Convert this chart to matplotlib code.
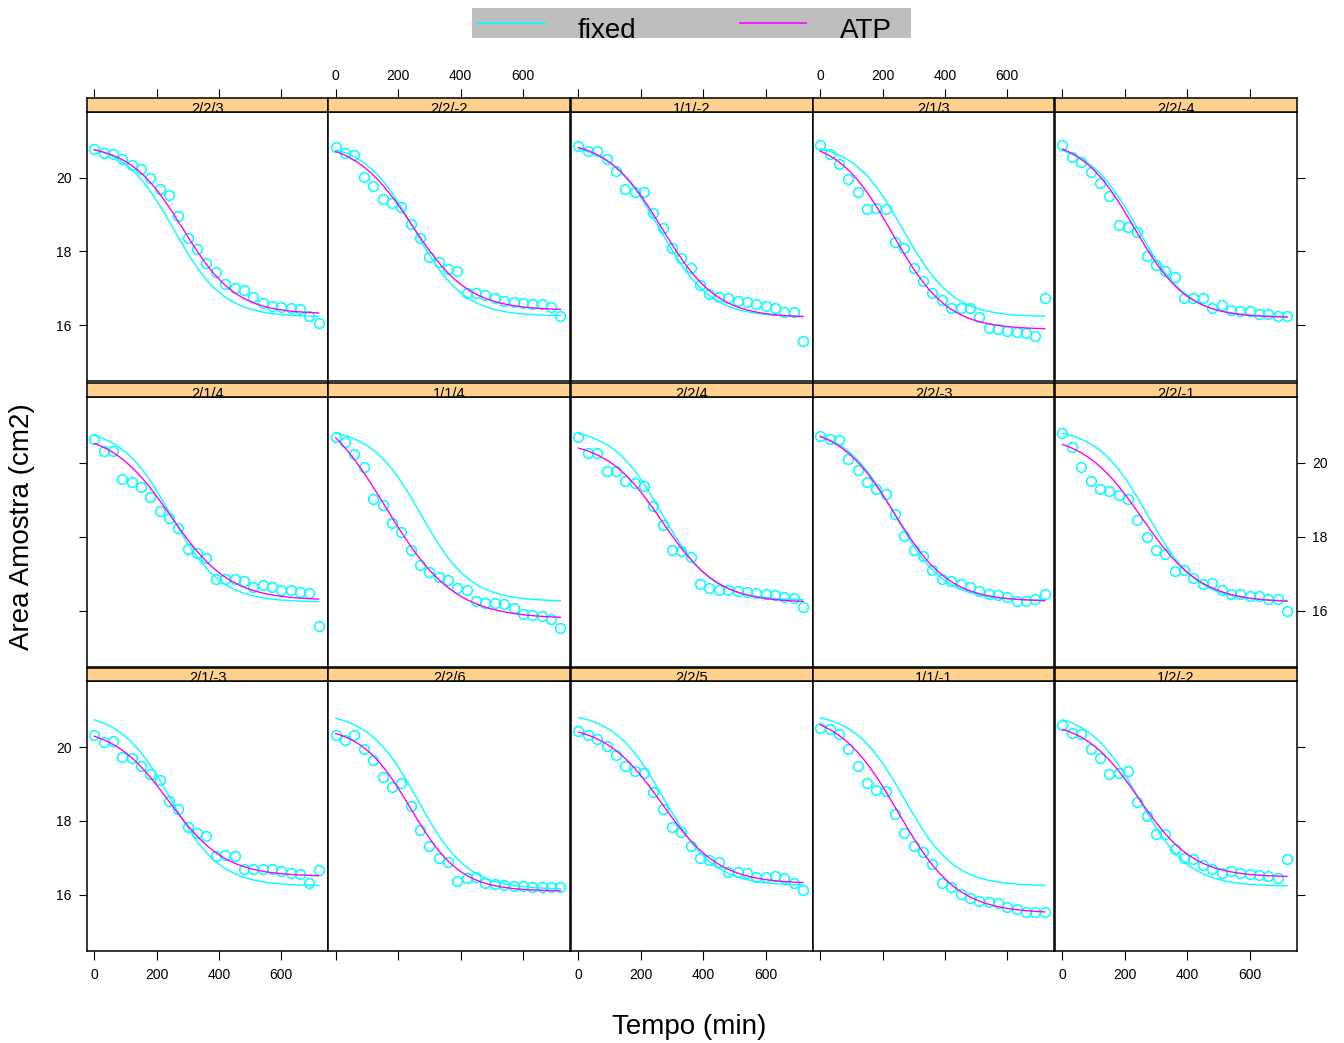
import numpy as np
import matplotlib.pyplot as plt

plt.rcParams['font.family'] = ['Liberation Sans', 'DejaVu Sans']

W, H, DPI = 1344, 1043, 100

# sampling times (min)
tempo = [0, 30, 60, 90, 120, 150, 180, 210, 240, 270, 300, 330, 360,
         390, 420, 450, 480, 510, 540, 570, 600, 630, 660, 690, 720]

# observed sample area (cm2), one list per panel, read left->right, top->bottom
area_p01 = [20.78, 20.66, 20.65, 20.51, 20.34, 20.24, 20.00, 19.68, 19.53, 18.97, 18.35, 18.06, 17.67,
            17.45, 17.11, 17.01, 16.95, 16.76, 16.59, 16.52, 16.48, 16.45, 16.43, 16.25, 16.05]
area_p02 = [20.84, 20.68, 20.62, 20.01, 19.77, 19.42, 19.30, 19.21, 18.73, 18.35, 17.84, 17.72, 17.51,
            17.46, 16.88, 16.87, 16.81, 16.72, 16.66, 16.63, 16.60, 16.57, 16.56, 16.48, 16.24]
area_p03 = [20.87, 20.71, 20.71, 20.51, 20.18, 19.68, 19.62, 19.62, 19.03, 18.62, 18.08, 17.83, 17.54,
            17.08, 16.83, 16.77, 16.72, 16.66, 16.63, 16.56, 16.52, 16.45, 16.34, 16.34, 15.56]
area_p04 = [20.89, 20.63, 20.36, 19.95, 19.60, 19.14, 19.17, 19.15, 18.24, 18.10, 17.55, 17.19, 16.86,
            16.69, 16.45, 16.45, 16.45, 16.22, 15.91, 15.88, 15.84, 15.80, 15.79, 15.71, 16.74]
area_p05 = [20.89, 20.57, 20.42, 20.16, 19.85, 19.51, 18.71, 18.67, 18.53, 17.88, 17.63, 17.47, 17.29,
            16.72, 16.72, 16.72, 16.47, 16.54, 16.42, 16.38, 16.38, 16.30, 16.30, 16.25, 16.25]
area_p06 = [20.65, 20.33, 20.32, 19.56, 19.48, 19.34, 19.08, 18.69, 18.51, 18.24, 17.68, 17.56, 17.41,
            16.86, 16.85, 16.85, 16.80, 16.65, 16.68, 16.65, 16.56, 16.55, 16.51, 16.47, 15.57]
area_p07 = [20.71, 20.56, 20.23, 19.89, 19.03, 18.86, 18.38, 18.12, 17.65, 17.23, 17.05, 16.91, 16.82,
            16.62, 16.56, 16.27, 16.21, 16.20, 16.18, 16.06, 15.91, 15.88, 15.85, 15.77, 15.52]
area_p08 = [20.71, 20.27, 20.27, 19.79, 19.77, 19.52, 19.44, 19.38, 18.84, 18.32, 17.65, 17.62, 17.45,
            16.71, 16.62, 16.56, 16.55, 16.52, 16.50, 16.47, 16.45, 16.41, 16.36, 16.35, 16.09]
area_p09 = [20.73, 20.64, 20.62, 20.09, 19.80, 19.48, 19.30, 19.16, 18.61, 18.03, 17.64, 17.48, 17.11,
            16.85, 16.79, 16.71, 16.64, 16.53, 16.45, 16.41, 16.36, 16.27, 16.27, 16.32, 16.44]
area_p10 = [20.80, 20.44, 19.88, 19.52, 19.30, 19.23, 19.14, 19.03, 18.44, 18.00, 17.64, 17.52, 17.06,
            17.09, 16.89, 16.73, 16.75, 16.57, 16.45, 16.44, 16.39, 16.39, 16.32, 16.32, 16.00]
area_p11 = [20.34, 20.14, 20.16, 19.73, 19.71, 19.50, 19.26, 19.12, 18.53, 18.33, 17.84, 17.67, 17.60,
            17.04, 17.09, 17.06, 16.71, 16.70, 16.71, 16.70, 16.65, 16.59, 16.57, 16.33, 16.68]
area_p12 = [20.34, 20.19, 20.32, 19.96, 19.64, 19.19, 18.92, 19.03, 18.40, 17.75, 17.33, 17.01, 16.90,
            16.38, 16.45, 16.48, 16.33, 16.30, 16.27, 16.24, 16.23, 16.21, 16.21, 16.21, 16.21]
area_p13 = [20.43, 20.33, 20.21, 20.03, 19.78, 19.48, 19.35, 19.30, 18.79, 18.33, 17.83, 17.70, 17.33,
            17.01, 16.95, 16.88, 16.61, 16.63, 16.59, 16.49, 16.49, 16.51, 16.45, 16.31, 16.13]
area_p14 = [20.53, 20.48, 20.36, 19.94, 19.48, 19.03, 18.85, 18.80, 18.19, 17.67, 17.33, 17.16, 16.84,
            16.31, 16.20, 16.02, 15.91, 15.83, 15.80, 15.77, 15.68, 15.62, 15.53, 15.53, 15.54]
area_p15 = [20.61, 20.39, 20.36, 19.94, 19.71, 19.26, 19.31, 19.34, 18.51, 18.14, 17.66, 17.65, 17.23,
            17.00, 16.98, 16.82, 16.71, 16.58, 16.65, 16.59, 16.56, 16.53, 16.51, 16.46, 16.98]

panel_names = ['2/2/3', '2/2/-2', '1/1/-2', '2/1/3', '2/2/-4',
               '2/1/4', '1/1/4', '2/2/4', '2/2/-3', '2/2/-1',
               '2/1/-3', '2/2/6', '2/2/5', '1/1/-1', '1/2/-2']
panel_area = [area_p01, area_p02, area_p03, area_p04, area_p05,
              area_p06, area_p07, area_p08, area_p09, area_p10,
              area_p11, area_p12, area_p13, area_p14, area_p15]

# logistic fits (upper asymptote, lower asymptote, xmid, scal)
fixed_hi = 20.95
fixed_scal = 80
fixed_lo = [16.22, 16.24, 16.22, 16.22, 16.22, 16.23, 16.25, 16.28, 16.27, 16.25, 16.24, 16.15, 16.25, 16.24, 16.23]
fixed_mid = [256, 252, 262, 266, 243, 246, 273, 268, 238, 272, 245, 264, 274, 270, 246]

atp_hi = [20.91, 21.00, 21.04, 21.07, 21.08, 20.85, 21.82, 20.61, 21.01, 20.79, 20.56, 20.58, 20.63, 20.97, 20.73]
atp_lo = [16.30, 16.40, 16.20, 15.88, 16.20, 16.28, 15.78, 16.22, 16.25, 16.22, 16.50, 16.10, 16.30, 15.50, 16.48]
atp_mid = [285, 245, 268, 232, 230, 245, 160, 268, 238, 255, 240, 240, 268, 250, 245]
atp_scal = [85, 91, 88, 88, 85, 95, 110, 90, 88, 95, 90, 80, 92, 95, 88]


def logis(x, hi, lo, mid, scal):
    return lo + (hi - lo) / (1 + np.exp((x - mid) / scal))


CYAN = '#00FFFF'
MAGENTA = '#FF00FF'
STRIP = '#FFD18E'

# layout in pixels
col_left = [86.7, 328.3, 571.0, 812.7, 1055.0]
panel_w = 241.7
strip_top = [97.7, 382.7, 667.7]
panel_top = [111.7, 396.7, 681.0]
panel_bot = [381.0, 666.7, 951.0]
XLIM = (-24, 751)
YLIM = (14.48, 21.79)


def rect(x0, y0, x1, y1):
    return [x0 / W, 1 - y1 / H, (x1 - x0) / W, (y1 - y0) / H]


fig = plt.figure(figsize=(W / DPI, H / DPI), dpi=DPI)
xfit = np.linspace(0, 720, 121)

for i, name in enumerate(panel_names):
    r, c = divmod(i, 5)
    x0 = col_left[c]
    ax = fig.add_axes(rect(x0, panel_top[r], x0 + panel_w, panel_bot[r]))
    ax.plot(tempo, panel_area[i], 'o', mfc='none', mec=CYAN, ms=7, mew=1.1)
    ax.plot(xfit, logis(xfit, fixed_hi, fixed_lo[i], fixed_mid[i], fixed_scal), color=CYAN, lw=1.0)
    ax.plot(xfit, logis(xfit, atp_hi[i], atp_lo[i], atp_mid[i], atp_scal[i]), color=MAGENTA, lw=1.0)
    ax.set_xlim(*XLIM)
    ax.set_ylim(*YLIM)
    ax.set_xticks([0, 200, 400, 600])
    ax.set_yticks([16, 18, 20])
    for sp in ax.spines.values():
        sp.set_linewidth(1.1)
    ax.tick_params(axis='x', direction='out', length=6.5, width=0.8, pad=6, labelsize=10,
                   top=False, bottom=(r == 2), labeltop=False,
                   labelbottom=(r == 2 and c % 2 == 0))
    ax.tick_params(axis='y', direction='out', length=6, width=0.8, pad=5, labelsize=10,
                   left=(c == 0), right=(c == 4),
                   labelleft=(c == 0 and r != 1), labelright=(c == 4 and r == 1))

    # strip
    axs = fig.add_axes(rect(x0, strip_top[r], x0 + panel_w, panel_top[r]))
    axs.set_facecolor(STRIP)
    axs.set_xlim(*XLIM)
    axs.set_ylim(0, 1)
    axs.set_yticks([])
    axs.set_xticks([0, 200, 400, 600])
    for sp in axs.spines.values():
        sp.set_linewidth(1.1)
    axs.tick_params(axis='x', direction='out', length=6.5, width=0.8, pad=4, labelsize=10,
                    bottom=False, labelbottom=False, top=(r == 0),
                    labeltop=(r == 0 and c % 2 == 1))
    axs.text(0.5, -0.1, name, transform=axs.transAxes, ha='center', va='baseline',
             fontsize=10.5, clip_on=True)

# legend box
axl = fig.add_axes(rect(472, 8, 911, 38))
axl.set_facecolor('#BEBEBE')
axl.set_xlim(472, 911)
axl.set_ylim(38, 8)
axl.set_xticks([])
axl.set_yticks([])
for sp in axl.spines.values():
    sp.set_visible(False)
axl.plot([477, 545], [22.5, 22.5], color=CYAN, lw=1.2)
axl.plot([740, 806], [22.5, 22.5], color=MAGENTA, lw=1.2)
axl.text(578, 37.5, 'fixed', fontsize=20, ha='left', va='baseline', clip_on=True)
axl.text(840, 37.5, 'ATP', fontsize=20, ha='left', va='baseline', clip_on=True)

fig.text(22 / W, 1 - 527 / H, 'Area Amostra (cm2)', rotation=90, fontsize=20,
         ha='center', va='center')
fig.text(689 / W, 1 - 1027 / H, 'Tempo (min)', fontsize=20, ha='center', va='center')

fig.savefig('out.png', dpi=DPI)
